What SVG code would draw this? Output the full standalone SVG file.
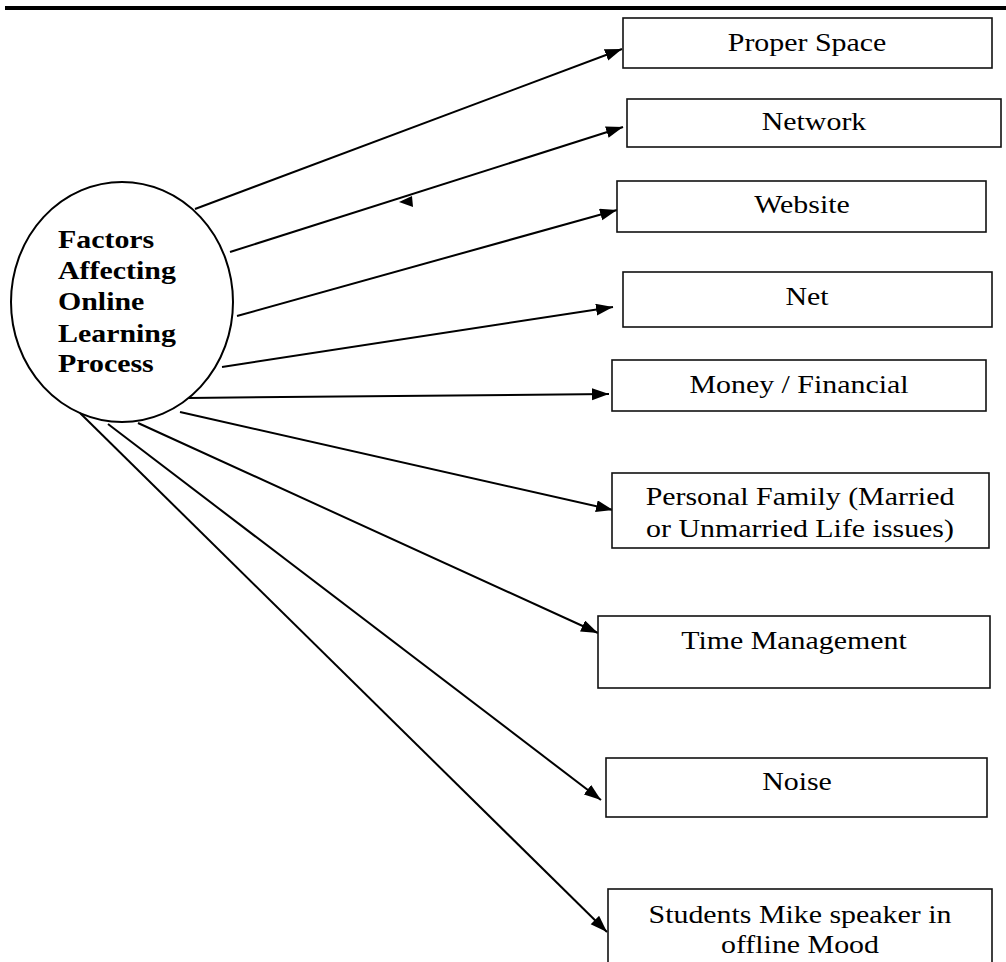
<svg xmlns="http://www.w3.org/2000/svg" width="1006" height="962" viewBox="0 0 1006 962">
<style>
.box{fill:#fff;stroke:#111;stroke-width:1.6}
.lbl{font-family:"Liberation Serif","Times New Roman",serif;font-size:26px;fill:#000;text-anchor:middle}
.ctr{font-family:"Liberation Serif","Times New Roman",serif;font-size:26px;font-weight:bold;fill:#000}
.edge{stroke:#000;stroke-width:2;fill:none;marker-end:url(#ah)}
</style>
<defs>
<marker id="ah" markerUnits="userSpaceOnUse" markerWidth="18" markerHeight="13" refX="17" refY="6" orient="auto">
<path d="M0,0 L17,6 L0,12 z" fill="#000"/>
</marker>
</defs>
<rect x="0" y="0" width="1006" height="962" fill="#fff"/>
<rect x="5" y="6" width="1001" height="4" fill="#000"/>
<g id="connectors">
<line class="edge" x1="195" y1="209" x2="622" y2="49"/>
<line class="edge" x1="230" y1="252" x2="623" y2="127"/>
<path d="M399,202 L412,196 L413,207 z" fill="#000"/>
<line class="edge" x1="237" y1="316" x2="617" y2="210"/>
<line class="edge" x1="222" y1="367" x2="613" y2="307"/>
<line class="edge" x1="188" y1="398" x2="609" y2="394"/>
<line class="edge" x1="180" y1="412" x2="613" y2="510"/>
<line class="edge" x1="138" y1="423" x2="598" y2="633"/>
<line class="edge" x1="108" y1="424" x2="601" y2="800"/>
<line class="edge" x1="80" y1="413" x2="607" y2="932"/>
</g>
<g id="center">
<ellipse cx="122" cy="302" rx="111" ry="120" fill="none" stroke="#000" stroke-width="2"/>
<g transform="translate(58,0) scale(1.15,1)">
<text class="ctr" x="0" y="248">Factors</text>
<text class="ctr" x="0" y="279">Affecting</text>
<text class="ctr" x="0" y="310">Online</text>
<text class="ctr" x="0" y="342">Learning</text>
<text class="ctr" x="0" y="372">Process</text>
</g>
</g>
<g id="proper-space">
<rect class="box" x="623" y="18" width="369" height="50"/>
<text class="lbl" transform="translate(807,51) scale(1.15,1)">Proper Space</text>
</g>
<g id="network">
<rect class="box" x="627" y="99" width="374" height="48"/>
<text class="lbl" transform="translate(814,130) scale(1.15,1)">Network</text>
</g>
<g id="website">
<rect class="box" x="617" y="181" width="369" height="51"/>
<text class="lbl" transform="translate(802,213) scale(1.15,1)">Website</text>
</g>
<g id="net">
<rect class="box" x="623" y="272" width="369" height="55"/>
<text class="lbl" transform="translate(807,305) scale(1.15,1)">Net</text>
</g>
<g id="money">
<rect class="box" x="612" y="360" width="374" height="51"/>
<text class="lbl" transform="translate(799,393) scale(1.15,1)">Money / Financial</text>
</g>
<g id="personal-family">
<rect class="box" x="612" y="473" width="377" height="75"/>
<text class="lbl" transform="translate(800,505) scale(1.15,1)">Personal Family (Married</text>
<text class="lbl" transform="translate(800,537) scale(1.15,1)">or Unmarried Life issues)</text>
</g>
<g id="time-management">
<rect class="box" x="598" y="616" width="392" height="72"/>
<text class="lbl" transform="translate(794,649) scale(1.15,1)">Time Management</text>
</g>
<g id="noise">
<rect class="box" x="606" y="758" width="381" height="59"/>
<text class="lbl" transform="translate(797,790) scale(1.15,1)">Noise</text>
</g>
<g id="students-mike">
<rect class="box" x="608" y="889" width="384" height="90"/>
<text class="lbl" transform="translate(800,923) scale(1.15,1)">Students Mike speaker in</text>
<text class="lbl" transform="translate(800,953) scale(1.15,1)">offline Mood</text>
</g>
</svg>
